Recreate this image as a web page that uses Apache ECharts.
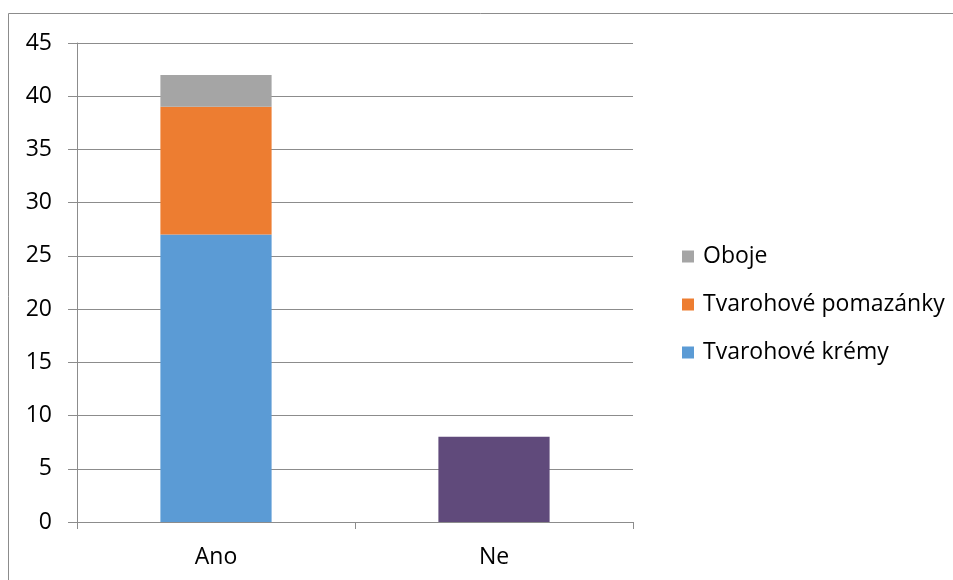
<!DOCTYPE html>
<html>
<head>
<meta charset="utf-8">
<script src="https://cdn.jsdelivr.net/npm/echarts@6/dist/echarts.min.js"></script>
<style>
  html, body { margin: 0; padding: 0; background: #fff; }
  #chart { width: 953px; height: 580px; }
</style>
</head>
<body>
<div id="chart"></div>
<script>
// Categories and stacked values
const categories = ['Ano', 'Ne'];
const kremy = [27, '-'];
const pomazanky = [12, '-'];
const oboje = [3, '-'];
const ne = ['-', 8];
const yTicks = { min: 0, max: 45, interval: 5 };

const FONT = '"Open Sans", sans-serif';
const chart = echarts.init(document.getElementById('chart'), null, { renderer: 'canvas' });

const barBase = { type: 'bar', stack: 'total', barWidth: '40%' };

chart.setOption({
  animation: false,
  backgroundColor: '#ffffff',
  graphic: [
    { type: 'line', shape: { x1: 8.5, y1: 13.5, x2: 953, y2: 13.5 }, style: { stroke: '#8c8c8c', lineWidth: 1 } },
    { type: 'line', shape: { x1: 8.5, y1: 13.5, x2: 8.5, y2: 580 }, style: { stroke: '#8c8c8c', lineWidth: 1 } }
  ],
  grid: { left: 77, right: 320, top: 43, bottom: 58, containLabel: false },
  legend: {
    orient: 'vertical',
    left: 677,
    top: 238,
    itemWidth: 12,
    itemHeight: 12,
    itemGap: 21,
    icon: 'rect',
    data: ['Oboje', 'Tvarohové pomazánky', 'Tvarohové krémy'],
    textStyle: { fontFamily: FONT, fontSize: 23, color: '#000', lineHeight: 27, padding: [0, 0, 0, 4] }
  },
  xAxis: {
    type: 'category',
    data: categories,
    axisLine: { lineStyle: { color: '#8c8c8c', width: 1 } },
    axisTick: { show: true, length: 7, alignWithLabel: false, lineStyle: { color: '#8c8c8c' } },
    axisLabel: { margin: 24, fontFamily: FONT, fontSize: 23, color: '#000' }
  },
  yAxis: {
    type: 'value',
    min: yTicks.min,
    max: yTicks.max,
    interval: yTicks.interval,
    axisLine: { show: true, lineStyle: { color: '#8c8c8c', width: 1 } },
    axisTick: { show: true, length: 9, lineStyle: { color: '#8c8c8c' } },
    splitLine: { show: true, lineStyle: { color: '#8c8c8c', width: 1 } },
    axisLabel: { margin: 25, fontFamily: FONT, fontSize: 23, color: '#000' }
  },
  series: [
    Object.assign({}, barBase, { name: 'Tvarohové krémy', data: kremy, itemStyle: { color: '#5b9bd5' } }),
    Object.assign({}, barBase, { name: 'Tvarohové pomazánky', data: pomazanky, itemStyle: { color: '#ed7d31' } }),
    Object.assign({}, barBase, { name: 'Oboje', data: oboje, itemStyle: { color: '#a5a5a5' } }),
    Object.assign({}, barBase, { name: 'Ne', data: ne, itemStyle: { color: '#604a7b' } })
  ]
});
</script>
</body>
</html>
